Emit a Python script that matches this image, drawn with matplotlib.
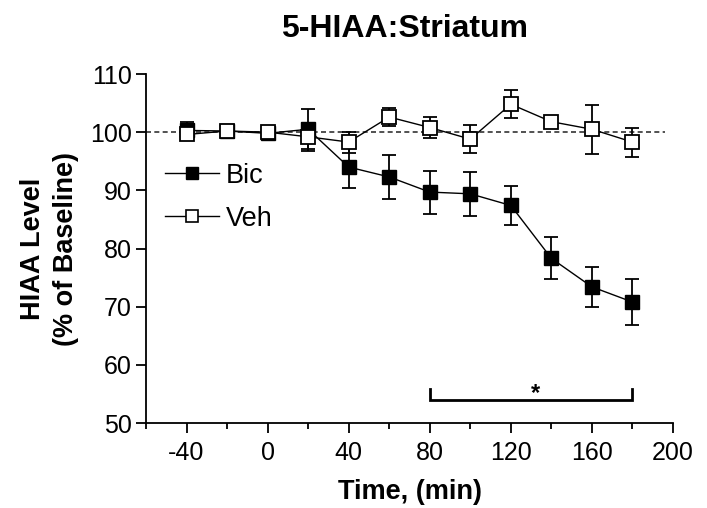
import matplotlib
matplotlib.use("Agg")
import matplotlib.pyplot as plt
from matplotlib.ticker import MultipleLocator
from matplotlib.lines import Line2D

time = [-40, -20, 0, 20, 40, 60, 80, 100, 120, 140, 160, 180]
bic_mean = [100.3, 100.2, 99.8, 100.5, 94.0, 92.3, 89.7, 89.4, 87.4, 78.3, 73.4, 70.8]
bic_err = [1.5, 0.8, 1.0, 3.4, 3.6, 3.8, 3.7, 3.8, 3.3, 3.6, 3.5, 3.9]
veh_mean = [99.6, 100.2, 100.0, 99.2, 98.3, 102.6, 100.8, 98.8, 104.8, 101.8, 100.5, 98.3]
veh_err = [1.0, 0.8, 1.0, 2.4, 1.8, 1.5, 1.8, 2.4, 2.4, 0.8, 4.2, 2.5]
series_labels = ['Bic', 'Veh']

plt.rcParams['font.family'] = ['Liberation Sans Narrow', 'Liberation Sans', 'DejaVu Sans']
plt.rcParams['axes.unicode_minus'] = False

fig = plt.figure(figsize=(7.07, 5.08), dpi=100)
ax = fig.add_axes([146/707, 1-423/508, (673-146)/707, (423-74)/508])

ax.hlines(100, -60, 196, colors='#333333', linestyles=(0, (3, 2)), linewidth=1.2, zorder=1)

ax.errorbar(time, bic_mean, yerr=bic_err, color='black', marker='s', markersize=10,
            markerfacecolor='black', markeredgecolor='black', linewidth=1.0,
            elinewidth=1.3, capsize=5, capthick=1.3, zorder=3)
ax.errorbar(time, veh_mean, yerr=veh_err, color='black', marker='s', markersize=10,
            markerfacecolor='white', markeredgecolor='black', markeredgewidth=1.3,
            linewidth=1.0, elinewidth=1.3, capsize=5, capthick=1.3, zorder=4)

# significance bracket
ax.plot([80, 80, 180, 180], [55.9, 54.0, 54.0, 55.9], color='black', linewidth=2.0,
        solid_joinstyle='miter')
ax.text(132, 55.0, '*', ha='center', va='center', fontsize=17, fontweight='bold')

ax.set_xlim(-60, 200)
ax.set_ylim(50, 110)
ax.set_xticks([-40, 0, 40, 80, 120, 160, 200])
ax.xaxis.set_minor_locator(MultipleLocator(20))
ax.yaxis.set_major_locator(MultipleLocator(10))

for s in ['top', 'right']:
    ax.spines[s].set_visible(False)
for s in ['left', 'bottom']:
    ax.spines[s].set_linewidth(1.3)

ax.tick_params(axis='both', which='major', direction='out', length=7, width=1.3,
               labelsize=18, pad=3)
ax.tick_params(axis='x', which='major', pad=6)
ax.tick_params(axis='x', which='minor', direction='out', length=4.5, width=1.3)

ax.set_xlabel('Time, (min)', fontsize=19.5, fontweight='bold', labelpad=10)
ax.set_ylabel('HIAA Level\n(% of Baseline)', fontsize=19.5, fontweight='bold', labelpad=8,
              linespacing=1.35)
fig.text(405/707, 1-37/508, '5-HIAA:Striatum', ha='center', va='baseline',
         fontsize=23, fontweight='bold')

handles = [
    Line2D([], [], color='black', linewidth=1.0, marker='s', markersize=8.5,
           markerfacecolor='black', markeredgecolor='black'),
    Line2D([], [], color='black', linewidth=1.0, marker='s', markersize=8.5,
           markerfacecolor='white', markeredgecolor='black', markeredgewidth=1.2),
]
leg = ax.legend(handles, series_labels, loc='upper left', bbox_to_anchor=(0.0, 0.80),
                frameon=False, fontsize=19.5, handlelength=2.0, handletextpad=0.25,
                labelspacing=0.62, borderaxespad=0.3)

fig.savefig('out.png', dpi=100)
